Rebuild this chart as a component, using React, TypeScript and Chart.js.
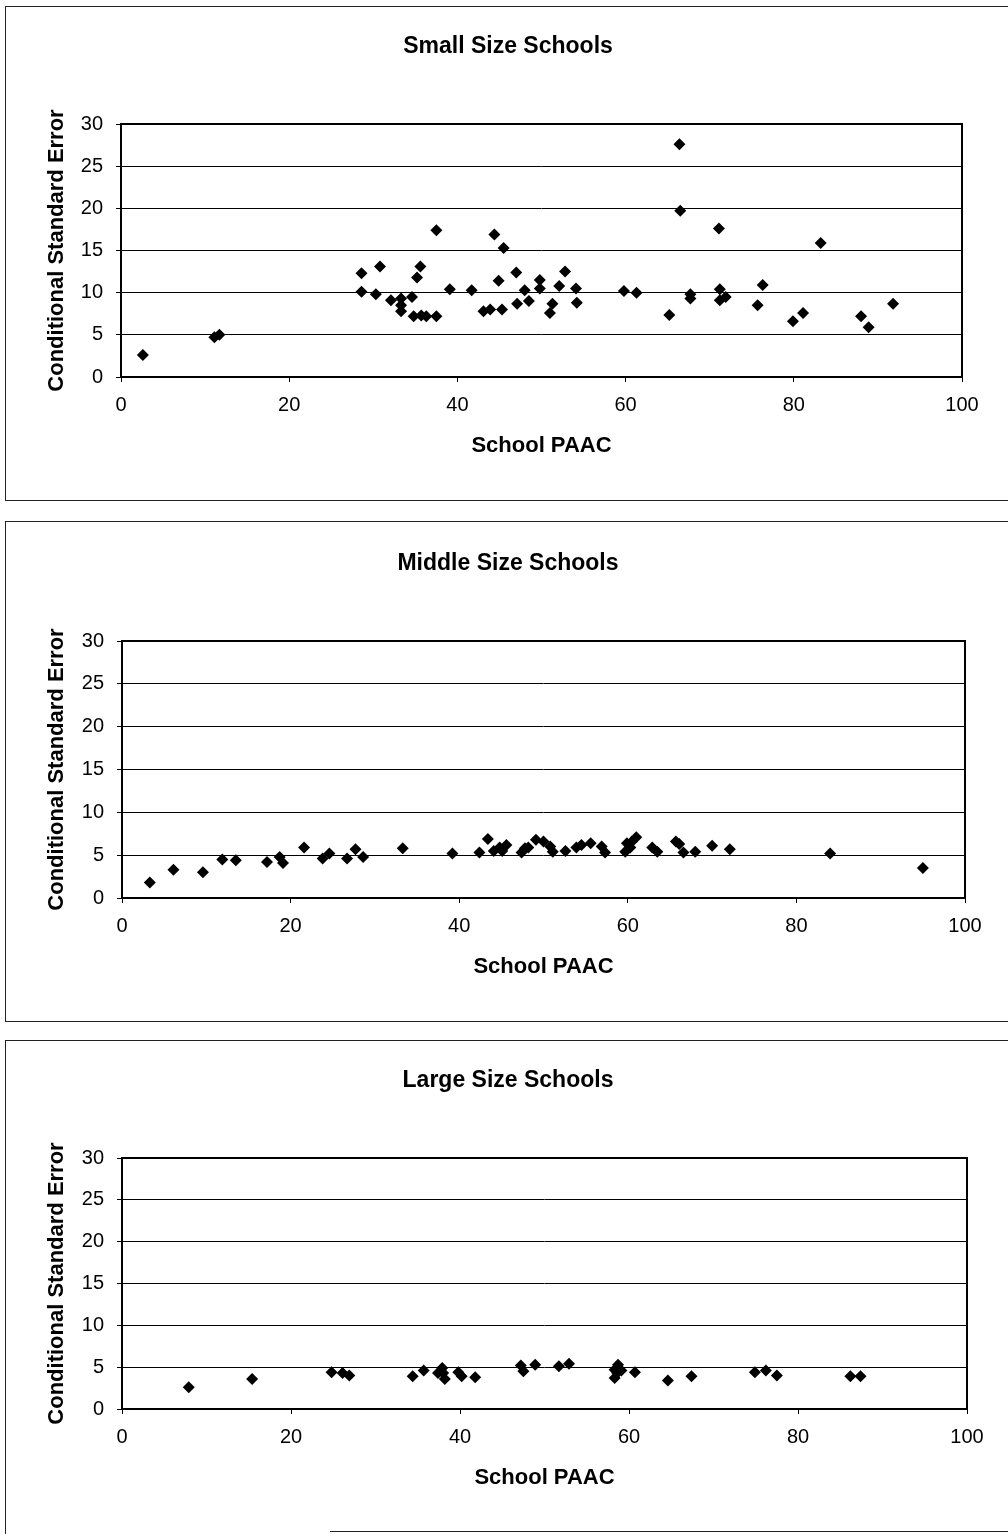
import React, { useEffect, useRef } from "react";
import { Chart, registerables } from "chart.js";

Chart.register(...registerables);

// ---- Data ----
const smallX = [2.6, 11.1, 11.7, 28.6, 28.6, 30.3, 30.8, 32.1, 33.3, 33.3, 33.3, 34.6, 34.8, 35.7, 36.3, 35.2, 35.6, 37.5, 37.5, 39.1, 41.7, 43.1, 43.9, 44.4, 45.3, 44.9, 45.5, 47.0, 47.1, 48.0, 48.5, 49.8, 49.8, 51.0, 51.3, 52.1, 52.8, 54.1, 54.2, 59.8, 61.3, 65.2, 66.4, 66.5, 67.7, 67.7, 71.1, 71.2, 71.2, 71.9, 75.7, 76.3, 79.9, 81.1, 83.2, 88.0, 88.9, 91.8];
const smallY = [2.6, 4.7, 5.0, 12.3, 10.1, 9.8, 13.1, 9.1, 9.3, 8.5, 7.8, 9.5, 7.2, 7.3, 7.2, 11.8, 13.1, 7.2, 17.4, 10.4, 10.3, 7.8, 8.0, 16.9, 8.0, 11.4, 15.3, 12.4, 8.7, 10.3, 9.0, 11.5, 10.5, 7.6, 8.7, 10.8, 12.5, 10.5, 8.8, 10.2, 10.0, 7.35, 27.6, 19.7, 9.8, 9.3, 17.6, 10.4, 9.1, 9.5, 8.5, 10.9, 6.6, 7.6, 15.9, 7.2, 5.9, 8.7];

const middleX = [3.3, 6.1, 9.6, 11.9, 13.5, 17.2, 18.7, 19.1, 21.6, 23.8, 24.6, 26.7, 27.7, 28.6, 33.3, 39.2, 42.4, 43.4, 44.1, 44.8, 45.6, 45.1, 47.4, 47.8, 48.2, 49.1, 50.0, 50.8, 51.1, 52.6, 53.9, 54.5, 55.6, 56.9, 57.3, 59.7, 59.9, 60.5, 61.0, 60.3, 62.9, 63.5, 65.7, 66.1, 66.6, 68.0, 70.0, 72.1, 84.0, 95.0];
const middleY = [1.8, 3.3, 3.0, 4.5, 4.4, 4.2, 4.8, 4.1, 5.9, 4.6, 5.2, 4.6, 5.7, 4.8, 5.8, 5.2, 5.3, 6.9, 5.5, 5.9, 6.2, 5.5, 5.3, 5.8, 5.9, 6.8, 6.6, 6.0, 5.4, 5.5, 5.9, 6.2, 6.4, 6.0, 5.3, 5.4, 6.4, 6.6, 7.1, 5.9, 5.9, 5.4, 6.6, 6.3, 5.3, 5.4, 6.1, 5.7, 5.2, 3.5];

const largeX = [7.9, 15.4, 24.8, 26.1, 26.9, 34.4, 35.7, 37.4, 37.9, 38.0, 38.2, 39.8, 40.2, 41.8, 47.2, 47.5, 48.9, 51.7, 52.9, 58.7, 58.3, 59.1, 58.3, 58.6, 60.7, 64.6, 67.4, 74.9, 76.2, 77.5, 86.2, 87.4];
const largeY = [2.6, 3.6, 4.4, 4.3, 4.0, 3.9, 4.6, 4.3, 4.9, 4.3, 3.6, 4.4, 3.9, 3.8, 5.2, 4.5, 5.3, 5.1, 5.4, 5.3, 4.7, 4.6, 3.7, 4.3, 4.4, 3.4, 3.9, 4.4, 4.6, 4.0, 3.9, 3.9];

const chartTitles = ["Small Size Schools", "Middle Size Schools", "Large Size Schools"];
const xAxisTitle = "School PAAC";
const yAxisTitle = "Conditional Standard Error";
const xTicksMinMax = [0, 100];
const xTickStep = 20;
const yTicksMinMax = [0, 30];
const yTickStep = 5;

// ---- Layout (page coordinates) ----
const PAGE_W = 1008;
const panels = [
  { xs: smallX, ys: smallY, top: 10, height: 485, plotTop: 124, plotBottom: 377, plotLeft: 121, plotRight: 962 },
  { xs: middleX, ys: middleY, top: 525, height: 490, plotTop: 641, plotBottom: 898, plotLeft: 122, plotRight: 965 },
  { xs: largeX, ys: largeY, top: 1045, height: 485, plotTop: 1158, plotBottom: 1409, plotLeft: 122, plotRight: 967 },
];

const FONT = '"Liberation Sans", Arial, Helvetica, sans-serif';

const frameTitlePlugin = {
  id: "frameTitle",
  beforeDatasetsDraw(chart: any) {
    const { ctx, chartArea: a } = chart;
    ctx.save();
    ctx.strokeStyle = "#000";
    ctx.lineWidth = 2;
    ctx.strokeRect(a.left, a.top, a.right - a.left, a.bottom - a.top);
    ctx.restore();
  },
  afterDraw(chart: any, _args: any, opts: any) {
    const { ctx } = chart;
    ctx.save();
    ctx.fillStyle = "#000";
    ctx.font = `bold 23px ${FONT}`;
    ctx.textAlign = "center";
    ctx.textBaseline = "middle";
    ctx.fillText(opts.text, opts.x, opts.y);
    ctx.restore();
  },
};

function Panel({ idx }: { idx: number }) {
  const ref = useRef<HTMLCanvasElement | null>(null);
  const p = panels[idx];
  useEffect(() => {
    if (!ref.current) return;
    const H = p.height;
    const plotTop = p.plotTop - p.top;
    const plotBottom = p.plotBottom - p.top;
    const titleY = plotTop - 77;
    const xTitleY = plotBottom + 69;
    const axisTitleSize = 22;
    const lh = axisTitleSize * 1.2;
    const chart = new Chart(ref.current, {
      type: "scatter",
      data: {
        datasets: [
          {
            data: p.xs.map((x, i) => ({ x, y: p.ys[i] })),
            pointStyle: "rectRot",
            pointRadius: 6,
            backgroundColor: "#000",
            borderColor: "#000",
            borderWidth: 0,
          },
        ],
      },
      plugins: [frameTitlePlugin as any],
      options: {
        responsive: false,
        animation: false,
        devicePixelRatio: 1,
        layout: { padding: { top: plotTop, left: 0, right: PAGE_W - p.plotRight, bottom: 0 } },
        plugins: {
          legend: { display: false },
          tooltip: { enabled: false },
          title: { display: false },
          frameTitle: { text: chartTitles[idx], x: 508, y: titleY },
        } as any,
        scales: {
          x: {
            type: "linear",
            min: xTicksMinMax[0],
            max: xTicksMinMax[1],
            ticks: { stepSize: xTickStep, color: "#000", font: { family: FONT, size: 20 }, padding: 11, maxRotation: 0 },
            grid: { drawOnChartArea: false, drawTicks: true, tickLength: 5, color: "#000", lineWidth: 1 },
            border: { display: false },
            title: {
              display: true,
              text: xAxisTitle,
              color: "#000",
              font: { family: FONT, size: axisTitleSize, weight: "bold" },
              padding: { top: 0, bottom: H - lh / 2 - xTitleY },
            },
            afterFit: (s: any) => {
              s.height = H - plotBottom;
            },
          },
          y: {
            type: "linear",
            min: yTicksMinMax[0],
            max: yTicksMinMax[1],
            ticks: { stepSize: yTickStep, color: "#000", font: { family: FONT, size: 20 }, padding: 13 },
            grid: { drawOnChartArea: true, drawTicks: true, tickLength: 5, color: "#000", lineWidth: 1 },
            border: { display: false },
            title: {
              display: true,
              text: yAxisTitle,
              color: "#000",
              font: { family: FONT, size: axisTitleSize, weight: "bold" },
              padding: { top: 57 - lh / 2, bottom: 0 },
            },
            afterFit: (s: any) => {
              s.width = p.plotLeft;
            },
          },
        },
      } as any,
    });
    return () => chart.destroy();
  }, [idx]);
  return (
    <canvas
      ref={ref}
      width={PAGE_W}
      height={p.height}
      style={{ position: "absolute", left: 0, top: p.top, width: PAGE_W, height: p.height }}
    />
  );
}

const boxStyle = (top: number, height: number, bottom = true): React.CSSProperties => ({
  position: "absolute",
  left: 5,
  top,
  width: PAGE_W - 5,
  height,
  borderLeft: "1px solid #222",
  borderTop: "1px solid #222",
  borderBottom: bottom ? "1px solid #222" : "none",
  boxSizing: "border-box",
});

export default function App() {
  return (
    <div
      style={{
        position: "absolute",
        left: 0,
        top: 0,
        width: PAGE_W,
        height: 1534,
        background: "#fff",
        overflow: "hidden",
      }}
    >
      <div style={boxStyle(6, 495)} />
      <div style={boxStyle(521, 501)} />
      <div style={boxStyle(1040, 494, false)} />
      <div style={{ position: "absolute", left: 330, top: 1531, width: PAGE_W - 330, height: 0, borderTop: "1px solid #222" }} />
      <Panel idx={0} />
      <Panel idx={1} />
      <Panel idx={2} />
    </div>
  );
}
